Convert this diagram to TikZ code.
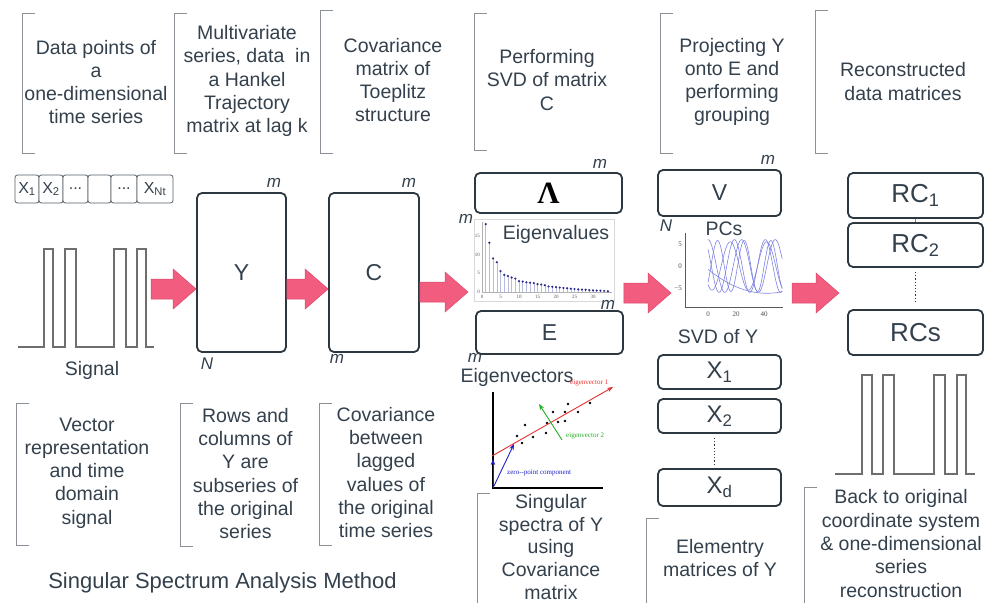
\documentclass[tikz,border=0pt]{standalone}
\usepackage{fontspec}
\setmainfont{Liberation Sans}
\newfontfamily\plotfont{Liberation Serif}
\usetikzlibrary{arrows.meta,calc}

\definecolor{ink}{HTML}{34414D}
\definecolor{boxline}{HTML}{2C3740}
\definecolor{arrowpink}{HTML}{F25C7E}
\definecolor{arrowedge}{HTML}{D94A6C}
\definecolor{brkgray}{HTML}{8A9096}
\definecolor{sigline}{HTML}{6E6E6E}
\definecolor{stemblue}{HTML}{B8BCE0}
\definecolor{dotblue}{HTML}{2A2A8C}
\definecolor{pcblue}{HTML}{7E82E2}
\definecolor{evred}{HTML}{E8302F}
\definecolor{evgreen}{HTML}{22B022}
\definecolor{evblue}{HTML}{2020C8}

% left square bracket beside a caption: x, top y, bottom y
\newcommand\sspbracket[3]{\draw[brk] ({#1+13},#2) -- (#1,#2) -- (#1,#3) -- ({#1+13},#3);}
% pink block arrow from a tail coordinate to a tip coordinate
\newcommand\blockarrow[2]{%
  \filldraw[fill=arrowpink, draw=arrowedge, line width=0.5]
    ($(#1)+(0,-10)$) -- ($(#2)+(-23,-10)$) -- ($(#2)+(-23,-20)$) -- (#2)
    -- ($(#2)+(-23,20)$) -- ($(#2)+(-23,10)$) -- ($(#1)+(0,10)$) -- cycle;}

\begin{document}
\begin{tikzpicture}[x=1pt,y=-1pt,
  desc/.style={font=\fontsize{19.5}{23.3}\selectfont, text=ink, align=center, inner sep=0},
  brk/.style={draw=brkgray, line width=0.9},
  mat/.style={draw=boxline, line width=1.8, rounded corners=5, fill=white, inner sep=0, text=ink},
  vec/.style={draw=boxline!80, line width=0.8, rounded corners=2.5, fill=white,
              minimum height=28, inner sep=0, font=\fontsize{16}{16}\selectfont, text=ink},
  dimlab/.style={font=\fontsize{17}{17}\selectfont\itshape, text=ink, inner sep=0},
  sig/.style={draw=sigline, line width=1.5},
  tick/.style={font=\plotfont\fontsize{5}{5}\selectfont, text=gray!70!black, inner sep=0},
  pctick/.style={font=\plotfont\fontsize{7}{7}\selectfont, text=gray!60!black, inner sep=0},
  evlab/.style={font=\plotfont\fontsize{7}{7}\selectfont, inner sep=0},
  pc/.style={draw=pcblue, line width=0.6, line join=round},
  evarrow/.style={-{Stealth[length=6pt,width=4.5pt]}, line width=0.9}]
\useasboundingbox (0,0) rectangle (987,602);
\fill[white] (0,0) rectangle (987,602);

% ---------- captions above the pipeline ----------
\sspbracket{22}{13}{153}
\node[desc] (t1) at (96,82) {Data points of\\a\\one-dimensional\\time series};
\sspbracket{174}{13}{153}
\node[desc] (t2) at (247,81) {Multivariate\\series, data\ \ in\\a Hankel\\Trajectory\\matrix at lag k};
\sspbracket{320}{10}{153}
\node[desc] (t3) at (393,80) {Covariance\\matrix of\\Toeplitz\\structure};
\sspbracket{474}{13}{150}
\node[desc] (t4) at (547,80) {Performing\\SVD of matrix\\C};
\sspbracket{660}{13}{153}
\node[desc] (t5) at (732,82) {Projecting Y\\onto E and\\performing\\grouping};
\sspbracket{815}{10}{153}
\node[desc] (t6) at (903,81.5) {Reconstructed\\data matrices};

% ---------- captions below the pipeline ----------
\sspbracket{16}{403}{545}
\node[desc] (b1) at (87,473) {Vector\\representation\\and time\\domain\\signal};
\sspbracket{180}{403}{546}
\node[desc] (b2) at (245.5,473.5) {Rows and\\columns of\\Y are\\subseries of\\the original\\series};
\sspbracket{319}{403}{545}
\node[desc] (b3) at (386,472.5) {Covariance\\between\\lagged\\values of\\the original\\time series};
\node[font=\fontsize{22}{22}\selectfont, text=ink, inner sep=0] (title) at (222.5,583) {Singular Spectrum Analysis Method};
\sspbracket{477}{493}{620}
\node[desc, font=\fontsize{19.5}{22.8}\selectfont] (b4) at (551,547) {Singular\\spectra of Y\\using\\Covariance\\matrix};
\sspbracket{646}{518}{620}
\node[desc] (b5) at (720,558) {Elementry\\matrices of Y};
\sspbracket{804}{487}{620}
\node[desc] (b6) at (901,543.5) {Back to original\\coordinate system\\\& one-dimensional\\series\\reconstruction};

% ---------- input vector and signal ----------
\node[vec, minimum width=24] (v1) at (27,189) {X\textsubscript{1}};
\node[vec, minimum width=24] (v2) at (51,189) {X\textsubscript{2}};
\node[vec, minimum width=25] (v3) at (75.5,189) {...};
\node[vec, minimum width=23] (v4) at (99.5,189) {};
\node[vec, minimum width=26] (v5) at (124,189) {...};
\node[vec, minimum width=36] (v6) at (155,189) {X\textsubscript{Nt}};

\draw[sig] (18,347) -| (44,249) -| (53,347) -| (65,249) -| (76,347)
  -| (114,249) -| (126,347) -| (137,249) -| (146,347) -- (154,347);
\node[desc] (siglab) at (92,370) {Signal};

% ---------- trajectory and covariance matrices ----------
\node[mat, minimum width=89, minimum height=159, font=\fontsize{23}{23}\selectfont] (Y) at (241.5,272.5) {Y};
\node[dimlab] at (274,183) {m};
\node[dimlab] at (207,364) {N};
\node[mat, minimum width=90, minimum height=159, font=\fontsize{23}{23}\selectfont] (C) at (374,272.5) {C};
\node[dimlab] at (409,183) {m};
\node[dimlab] at (337,359) {m};

% ---------- eigen-decomposition of C ----------
\node[mat, minimum width=147, minimum height=40, font=\plotfont\bfseries\fontsize{31}{31}\selectfont, text=black] (Lam) at (548.5,193) {Λ};
\node[dimlab] at (600,164) {m};
\node[dimlab] at (466,219) {m};

% eigenvalue spectrum
\draw[gray!30, line width=0.5] (474,219) rectangle (614,301);
\draw[gray!60, line width=0.5] (482,222) -- (482,292) -- (612,292);
\foreach \v [count=\i] in {18.2,13.2,9.0,8.0,5.6,4.6,4.3,3.9,3.6,2.9,2.8,2.6,2.5,2.4,2.1,2.0,1.8,1.5,1.4,1.3,1.2,1.1,1.0,0.9,0.8,0.7,0.65,0.6,0.5,0.45,0.4,0.35,0.3,0.2}{
  \draw[stemblue, line width=0.5] ({482+3.7*\i},292) -- ({482+3.7*\i},{292-3.73*\v});
  \fill[dotblue] ({482+3.7*\i},{292-3.73*\v}) circle (1.2);
}
\foreach \t in {0,5,...,30}{\node[tick] at ({482+3.7*\t},297) {\t};}
\foreach \t in {0,5,10,15}{\node[tick, anchor=east] at (480,{292-3.73*\t}) {\t};}
\node[desc] (evals) at (556,234) {Eigenvalues};

\node[mat, minimum width=147, minimum height=43, font=\fontsize{23}{23}\selectfont] (E) at (549.5,332.5) {E};
\node[dimlab] at (608,305) {m};
\node[dimlab] at (475,358) {m};
\node[desc] (evecs) at (517,377) {Eigenvectors};

% eigenvector sketch
\draw[black, line width=1.2] (493,392) -- (493,488) -- (603,488);
\foreach \px/\py in {525/425,517/436,522/443,533/437,546/433,547/423,553/412,558/422,565/412,565/421,568/404,578/412,590/403}{
  \fill[black] (\px,\py) circle (1.3);
}
\draw[evarrow, evred] (492,456) -- (613,387);
\node[evlab, text=evred, anchor=west] at (570,382.5) {eigenvector 1};
\draw[evarrow, evgreen] (562,440) -- (539,404);
\node[evlab, text=evgreen, anchor=west] at (566,436) {eigenvector 2};
\draw[evarrow, evblue] (493,488) -- (493,459);
\draw[evarrow, evblue] (493,488) -- (514,444);
\node[evlab, text=evblue, anchor=west] at (507,473) {zero--point component};

% ---------- projection: principal components ----------
\node[mat, minimum width=123, minimum height=46, font=\fontsize{23}{23}\selectfont] (V) at (719.5,193) {V};
\node[dimlab] at (768,160) {m};
\node[dimlab] at (666,226) {N};
\node[desc] (pcs) at (724,229) {PCs};

\draw[gray!70!black, line width=0.5] (685,233) -- (685,307) -- (783,307);
\node[pctick, anchor=east] at (682,244) {5};
\node[pctick, anchor=east] at (682,266) {0};
\node[pctick, anchor=east] at (682,288) {−5};
\node[pctick] at (708,314) {0};
\node[pctick] at (736,314) {20};
\node[pctick] at (764,314) {40};
% component curves, sampled every half step of t = 0..53 (x = 708 + 1.4 t)
\draw[pc] (708,{266-26.4*sin(90)})
  \foreach \i in {1,...,106}{ -- ({708+0.7*\i},{266-26.4*sin(15*(\i/2+6))}) };
\draw[pc] (708,{266-26.4*sin(141)})
  \foreach \i in {1,...,106}{ -- ({708+0.7*\i},{266-26.4*sin(16.3636*\i/2+141)}) };
\draw[pc] (708,{266-25.5*sin(-40)})
  \foreach \i in {1,...,106}{ -- ({708+0.7*\i},{266-25.5*sin(18.947*\i/2-40)}) };
\draw[pc] (708,{266-24.2*sin(230)})
  \foreach \i in {1,...,106}{ -- ({708+0.7*\i},{266-24.2*sin(13.846*\i/2+230)}) };
\draw[pc] (708,{266-4.4*(-6.2+0.0031*42*42)})
  \foreach \i in {1,...,106}{ -- ({708+0.7*\i},{266-4.4*(-6.2+0.0031*(\i/2-42)*(\i/2-42))}) };
\node[desc] (svdy) at (718,337) {SVD of Y};

% elementary matrices
\node[mat, minimum width=123, minimum height=34, font=\fontsize{24}{24}\selectfont] (X1) at (719.5,372) {X\textsubscript{1}};
\node[mat, minimum width=123, minimum height=34, font=\fontsize{24}{24}\selectfont] (X2) at (719.5,416) {X\textsubscript{2}};
\node[mat, minimum width=123, minimum height=37, font=\fontsize{24}{24}\selectfont] (Xd) at (719.5,487.5) {X\textsubscript{d}};
\draw[boxline, line width=1.2, dotted] ($(X2.south)+(-5,4)$) -- ($(Xd.north)+(-5,-4)$);

% ---------- reconstructed components ----------
\node[mat, minimum width=135, minimum height=45, font=\fontsize{26}{26}\selectfont] (RC1) at (915.5,195.5) {RC\textsubscript{1}};
\node[mat, minimum width=135, minimum height=44, font=\fontsize{26}{26}\selectfont] (RC2) at (915.5,245) {RC\textsubscript{2}};
\node[mat, minimum width=135, minimum height=45, font=\fontsize{26}{26}\selectfont] (RCs) at (915.5,332.5) {RCs};
\draw[gray, line width=0.6] (RC1.south) -- (RC2.north);
\draw[boxline, line width=1.2, dotted] ($(RC2.south)+(0,4)$) -- ($(RCs.north)+(0,-6)$);

\draw[sig] (835,474) -| (862,375) -| (872,474) -| (883,375) -| (894,474)
  -| (934,375) -| (945,474) -| (957,375) -| (966,474) -- (975,474);

% ---------- block arrows between stages ----------
\coordinate (a1s) at (151,289);
\coordinate (a1e) at (Y.west |- a1s);
\coordinate (a2s) at (Y.east |- 0,289);
\coordinate (a2e) at (C.west |- a2s);
\coordinate (a3s) at (C.east |- 0,292);
\coordinate (a3e) at (468,292);
\coordinate (a4s) at (E.east |- 0,293);
\coordinate (a4e) at (671,293);
\coordinate (a5s) at (792,293);
\coordinate (a5e) at (839,293);
\blockarrow{a1s}{a1e}
\blockarrow{a2s}{a2e}
\blockarrow{a3s}{a3e}
\blockarrow{a4s}{a4e}
\blockarrow{a5s}{a5e}
\end{tikzpicture}
\end{document}
